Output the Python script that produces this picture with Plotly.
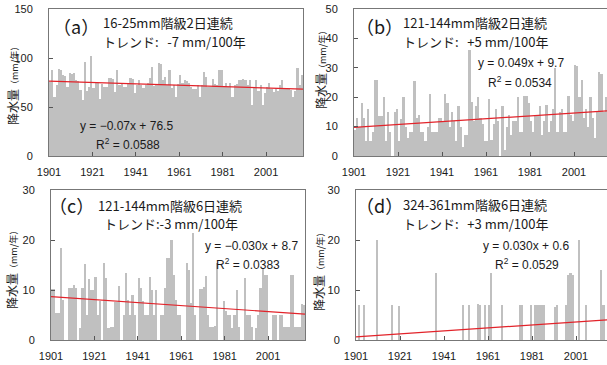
import plotly.graph_objects as go

W, H = 607, 365
years = list(range(1901, 2018))
xticks = [1901, 1921, 1941, 1961, 1981, 2001]

a_vals = [76, 88, 60, 72, 89, 88, 83, 82, 70, 85,
          84, 85, 78, 77, 67, 57, 96, 66, 70, 102,
          69, 75, 75, 58, 73, 70, 70, 80, 80, 79,
          65, 88, 72, 74, 70, 70, 74, 80, 79, 64,
          72, 78, 72, 69, 72, 74, 80, 91, 71, 73,
          95, 94, 78, 81, 72, 88, 69, 72, 60, 73,
          83, 75, 78, 77, 75, 70, 68, 68, 72, 60,
          72, 86, 81, 70, 70, 79, 73, 72, 88, 88,
          70, 74, 70, 74, 60, 72, 73, 78, 78, 79,
          78, 72, 78, 52, 70, 78, 66, 72, 52, 64,
          70, 74, 68, 65, 69, 66, 72, 78, 69, 69,
          69, 67, 60, 66, 90, 72, 83]

b_vals = [9, 13, 10, 18, 13, 5, 16, 5, 8, 26,
          26, 13.5, 13.5, 20, 5, 15, 8, 0, 15, 16,
          5, 12.5, 20, 10, 6, 8, 8, 25.5, 13, 14,
          8, 8, 5, 10, 21, 8, 8, 8, 13, 13,
          12, 21, 18, 10, 15, 12, 5, 17, 10, 3,
          7, 7, 36, 18.5, 12, 17, 20, 13, 11, 5,
          5, 19.5, 5.5, 11, 16, 12, 0, 17, 2, 10,
          14, 7, 12, 12, 20, 8, 8, 20.5, 20.5, 18,
          12, 8, 14, 14, 17, 7, 12, 17.5, 8, 12,
          16, 30, 8, 15, 16, 8, 8, 20.5, 14, 12,
          31, 30.5, 20, 26, 13, 16, 10, 20, 13, 6,
          15, 28.5, 28, 15, 20, 28, 30]

c_vals = [10.3, 10.3, 5.5, 5.5, 18.5, 8, 0, 0, 10.5, 10.5,
          11, 10.5, 0, 2.5, 10.5, 15.3, 5, 12.3, 10, 10,
          12.7, 5, 7.8, 0, 15.5, 12.5, 2.5, 2.7, 2.7, 7.7,
          7.7, 10.8, 0, 5, 13.5, 8, 5, 9, 5, 0,
          12.5, 10.5, 7.8, 5, 5, 12.7, 10, 5, 10, 0,
          5, 5, 10.5, 16.5, 16.5, 20, 13, 8, 5, 5,
          0, 0, 15.5, 14, 7.5, 21.5, 5, 0, 10.3, 10.3,
          10.7, 12.8, 5, 2.7, 2.7, 2.8, 15.5, 0, 0, 7.8,
          5.8, 5, 5, 2.5, 5, 10, 2.7, 0, 0, 12.5,
          5, 5, 2.7, 0, 2.5, 5, 10.5, 14.5, 13, 13,
          0, 0, 5, 5, 0, 5, 5, 2.7, 2.7, 2.7,
          13, 13, 2.7, 2.7, 2.7, 7.3, 7]

d_vals = [0, 7, 0, 7, 0, 0, 0, 0, 0, 20,
          0, 0, 0, 0, 0, 0, 7, 0, 0, 6.8,
          0, 0, 0, 0, 0, 0, 0, 0, 0, 0,
          0, 0, 0, 0, 0, 0, 13.5, 0, 0, 0,
          0, 0, 0, 0, 0, 0, 0, 0, 7, 0,
          0, 7, 0, 0, 0, 7.2, 7, 0, 7, 0,
          7, 13.5, 0, 0, 0, 0, 7, 0, 0, 0,
          0, 0, 0, 0, 7, 7, 0, 0, 0, 7,
          0, 7, 7, 7, 7, 7, 0, 0, 0, 0,
          6.7, 7, 0, 0, 0, 7, 13, 13.5, 13, 0,
          0, 20, 0, 0, 7, 0, 0, 0, 0, 0,
          0, 14, 7, 0, 0, 0, 0]

labels = ["（a）", "（b）", "（c）", "（d）"]
titles = ["16-25mm階級2日連続", "121-144mm階級2日連続", "121-144mm階級6日連続", "324-361mm階級6日連続"]
trends = ["トレンド:\u00a0\u00a0\u00a0-7 mm/100年", "トレンド:\u00a0\u00a0\u00a0+5 mm/100年",
          "トレンド:-3 mm/100年", "トレンド:\u00a0\u00a0\u00a0+3 mm/100年"]
eqs = ["y = −0.07x + 76.5", "y = 0.049x + 9.7", "y = −0.030x + 8.7", "y = 0.030x + 0.6"]
r2s = ["0.0588", "0.0534", "0.0383", "0.0529"]
slopes = [-0.07, 0.049, -0.030, 0.030]
intercepts = [76.5, 9.7, 8.7, 0.6]
ymaxs = [150, 50, 30, 30]
ydticks = [50, 10, 10, 10]

# layout geometry (pixels)
geo = [
    dict(x0=49, x1=303, y0=9, y1=156, xend=2018, mirror=True,
         lab=(52, 26), tit=(102, 23), tr=(102, 42), eq=(126, 126), r2=(128, 144), yt=(13, 84)),
    dict(x0=354, x1=607, y0=9, y1=156, xend=1901 + 253 / 2.2, mirror=False,
         lab=(355, 26), tit=(402, 23), tr=(402, 42), eq=(521, 63), r2=(520, 82), yt=(320, 68)),
    dict(x0=51, x1=305, y0=190, y1=340, xend=2018, mirror=True,
         lab=(48, 205), tit=(97, 205), tr=(103, 223), eq=(251, 246), r2=(248, 264), yt=(11, 268)),
    dict(x0=356, x1=607, y0=190, y1=340, xend=1901 + 251 / 2.2, mirror=False,
         lab=(355, 205), tit=(402, 204), tr=(402, 223), eq=(526, 246), r2=(527, 264), yt=(318, 270)),
]

series = [a_vals, b_vals, c_vals, d_vals]
JP = "Noto Sans CJK JP"
NUM = "Liberation Sans"
TXT = "#1a1a1a"

fig = go.Figure()
layout = {}
annotations = []

def px(x, y):
    return x / W, 1 - y / H

for k in range(4):
    n = "" if k == 0 else str(k + 1)
    xa, ya = "x" + n, "y" + n
    g = geo[k]
    fig.add_trace(go.Bar(x=[yv + 0.5 for yv in years], y=series[k], width=1,
                         marker=dict(color="#C0C0C0", line=dict(width=0)),
                         xaxis=xa, yaxis=ya, hoverinfo="skip", showlegend=False))
    tx = [1901, 2018]
    ty = [slopes[k] * (t - 1900.5) + intercepts[k] for t in tx]
    fig.add_trace(go.Scatter(x=tx, y=ty, mode="lines",
                             line=dict(color="#E2232A", width=1.2),
                             xaxis=xa, yaxis=ya, hoverinfo="skip", showlegend=False))
    layout["xaxis" + n] = dict(
        domain=[g["x0"] / W, g["x1"] / W], anchor=ya, range=[1901, g["xend"]],
        tickvals=xticks, ticktext=[str(t) for t in xticks],
        ticks="inside", ticklen=4, tickcolor="#555", tickwidth=1,
        showline=True, linecolor="#777", linewidth=1, mirror=True,
        showgrid=False, zeroline=False, ticklabelstandoff=6, automargin=False,
        tickfont=dict(family=NUM, size=11, color=TXT))
    layout["yaxis" + n] = dict(
        domain=[1 - g["y1"] / H, 1 - g["y0"] / H], anchor=xa, range=[0, ymaxs[k]],
        dtick=ydticks[k], tick0=0,
        ticks="inside", ticklen=4, tickcolor="#555", tickwidth=1,
        showline=True, linecolor="#777", linewidth=1, mirror=g["mirror"],
        showgrid=False, zeroline=False, ticklabelstandoff=13, automargin=False,
        tickfont=dict(family=NUM, size=11, color=TXT))

    def ann(text, pos, size, family=JP, xanchor="left", angle=0, yanchor="middle"):
        x, y = px(*pos)
        annotations.append(dict(text=text, x=x, y=y, xref="paper", yref="paper",
                                xanchor=xanchor, yanchor=yanchor, showarrow=False,
                                textangle=angle, borderpad=0,
                                font=dict(family=family, size=size, color=TXT)))

    ann(labels[k], g["lab"], 18)
    ann(titles[k], g["tit"], 13)
    ann(trends[k], g["tr"], 13)
    ann(eqs[k], g["eq"], 12, family=NUM, xanchor="center")
    ann("R<sup>2</sup> = " + r2s[k], g["r2"], 12, family=NUM, xanchor="center")
    ann("降水量<span style='font-size:9px'>（mm/年）</span>", g["yt"], 12,
        xanchor="center", angle=-90)

fig.update_layout(**layout)
fig.update_layout(width=W, height=H, margin=dict(l=0, r=0, t=0, b=0, autoexpand=False),
                  paper_bgcolor="white", plot_bgcolor="white",
                  bargap=0, annotations=annotations, showlegend=False)

fig.write_html("out.html", config={"displayModeBar": False, "staticPlot": True},
               post_script="document.body.style.margin='0';document.body.style.padding='0';document.body.style.overflow='hidden';")
